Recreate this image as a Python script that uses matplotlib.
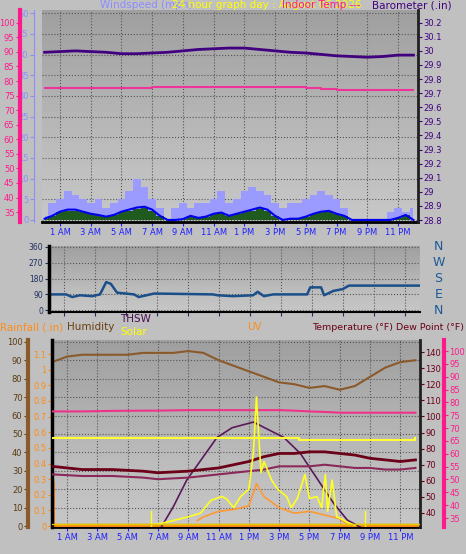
import matplotlib.pyplot as plt
import numpy as np

W, H = 466, 554

# ---- data ----
hh = np.arange(0, 24.5, 0.5)
gust = [1, 4, 5, 7, 6, 5, 4, 5, 3, 4, 5, 7, 10, 8, 5, 3, 0, 3, 4, 3, 4, 4, 5, 7, 4, 5,
        7, 8, 7, 6, 4, 3, 4, 4, 5, 6, 7, 6, 5, 3, 0, 0, 0, 0, 0, 2, 3, 2, 3]
wind_avg = [0.3, 1, 2, 2.5, 2.5, 2, 1.5, 1.2, 0.8, 1.2, 2, 2.5, 3, 3.2, 2.5, 1, 0, 0, 0.2, 1,
            0.5, 0.8, 1.5, 1.8, 1, 1.5, 2, 2.5, 3, 2.5, 1, 0, 0.3, 0.3, 0.8, 1.5, 2, 2.2, 1.5, 1,
            0, 0, 0, 0, 0, 0, 0.5, 1.2, 0]

baro_h = [0, 1, 2, 3, 4, 5, 6, 7, 8, 9, 10, 11, 12, 13, 14, 15, 16, 17, 18, 19, 20, 21, 22, 23, 24]
baro = [29.99, 29.995, 30.0, 29.995, 29.99, 29.98, 29.98, 29.985, 29.99, 30.0, 30.01, 30.015,
        30.02, 30.02, 30.01, 30.0, 29.99, 29.985, 29.975, 29.965, 29.96, 29.955, 29.96, 29.97, 29.97]
inhum_h = [0, 6, 7, 11, 12, 16, 17, 18, 19, 24]
inhum = [77.5, 77.5, 78, 78, 78, 78, 77.5, 77.3, 77, 77]

dir_h = [0, 1.1, 1.5, 2.0, 2.8, 3.3, 3.7, 4.0, 4.4, 5.5, 5.8, 6.3, 6.8, 10.6, 10.9, 11.9, 13.2,
         13.5, 13.9, 14.5, 16.7, 16.9, 17.6, 17.8, 18.4, 19.0, 19.4, 24]
wdir = [90, 90, 75, 85, 80, 90, 160, 150, 100, 90, 75, 85, 95, 90, 85, 80, 85,
        105, 80, 90, 90, 130, 130, 85, 110, 120, 140, 140]

hum_h = [0, 1, 2, 5, 6, 8, 9, 10, 11, 12, 13, 14, 15, 16, 17, 18, 19, 20, 21, 22, 23, 24]
hum = [89, 92, 93, 93, 94, 94, 95, 94, 90, 87, 84, 81, 78, 77, 75, 76, 74, 76, 81, 86, 89, 90]

t_h = [0, 2, 4, 6, 7, 9, 11, 13, 14, 15, 16, 17, 18, 19, 20, 21, 22, 23, 24]
temp = [69, 67, 67, 66, 65, 66, 68, 72, 75, 77, 77, 78, 78, 77, 76, 74, 73, 72, 73]
dew = [64, 63, 63, 62, 61, 62, 64, 66, 67, 69, 69, 69, 70, 69, 68, 68, 67, 67, 68]
pinkb = [76.5, 76.5, 76.7, 76.8, 76.8, 77, 77, 77, 77, 77, 76.8, 76.5, 76.3, 76, 76, 76, 76, 76, 76]
yel_h = [0, 16, 16.3, 23.8, 24]
yel = [66, 66, 65.5, 65.5, 66]

thsw_h = [7.2, 8.0, 8.9, 10.9, 11.9, 13.3, 15.3, 16.4, 17.7, 18.6, 19.5, 20.4]
thsw = [31, 43.7, 60.5, 87, 93, 96.5, 87, 77, 58.6, 46, 35.6, 31]

sol_h = [6.5, 7, 9, 9.8, 10.5, 11.2, 11.5, 12, 12.45, 13, 13.3, 13.5, 13.8, 14.0, 14.5, 14.9, 15.5,
         15.8, 16.2, 16.7, 17.0, 17.5, 17.8, 18.05, 18.2, 18.5, 18.8, 19.1, 19.5, 20.0]
solar = [1, 1, 5, 7, 14, 16, 15, 10, 16, 20, 40, 70, 29, 35, 25, 20, 16, 10, 15, 28, 15, 16, 10,
         28, 8, 25, 5, 4, 2, 0.5]
uv_h = [9.6, 10, 11, 12, 13, 13.5, 14, 15, 16, 17, 18, 19, 19.5, 20]
uv = [3, 5, 8, 9, 11, 23, 16, 10, 7, 8, 6, 4, 1, 0]

hour_ticks = list(range(1, 24, 2))
hour_labels = ['1 AM', '3 AM', '5 AM', '7 AM', '9 AM', '11 AM',
               '1 PM', '3 PM', '5 PM', '7 PM', '9 PM', '11 PM']

PINK = '#ff1a8c'
LAV = '#8c8cff'
BARO = '#400080'
BROWN = '#8b5a2b'
ORANGE = '#ff8c1a'
TEMP = '#6b0018'
DEWC = '#8b2a5a'
PT = 0.72  # points per pixel


def rect(l, t, r, b):
    return [l / W, 1 - b / H, (r - l) / W, (b - t) / H]


def bg(ax):
    g = np.linspace(0, 1, 100).reshape(-1, 1)
    ax.imshow(g, cmap='Greys_r', vmin=-3.79, vmax=3.35, aspect='auto', extent=(0, 1, 0, 1),
              transform=ax.transAxes, zorder=0)
    ax.grid(True, color='#555555', ls=':', lw=0.8)
    ax.set_axisbelow(True)


def style(ax, color, fs=6):
    ax.tick_params(colors=color, labelsize=fs, length=3, width=0.8, pad=1)


plt.rcParams['font.family'] = 'DejaVu Sans'
fig = plt.figure(figsize=(W / 100, H / 100), dpi=100, facecolor='#c0c0c0')

# ---- top panel ----
ax = fig.add_axes(rect(42, 10, 418, 222))
bg(ax)
ax.set_xlim(-0.17, 24.3)
ax.set_ylim(-0.5, 50.8)
ax.set_yticks(range(0, 51, 5))
ax.set_xticks(hour_ticks)
ax.set_xticklabels(hour_labels)
style(ax, LAV)
ax.tick_params(axis='x', colors='#2020ff')
for s in ['top', 'right']:
    ax.spines[s].set_visible(False)
ax.spines['left'].set_position(('outward', 8 * PT))
ax.spines['left'].set_color(LAV)
ax.spines['bottom'].set_linewidth(2)
ax.fill_between(hh, gust, step='mid', color='#9a9aff', lw=0, zorder=2)
ax.fill_between(hh, np.array(wind_avg) * 0.9, step='mid', color='#1f5a1f', lw=0, zorder=3)
ax.plot(hh, wind_avg, color='#0000ee', lw=1.5, zorder=4)

axp = ax.twinx()
axp.set_ylim(31.6, 104.4)
axp.set_yticks(range(35, 101, 5))
axp.yaxis.tick_left()
axp.spines['left'].set_visible(True)
axp.spines['left'].set_position(('outward', 22 * PT))
axp.spines['left'].set_color(PINK)
axp.spines['left'].set_linewidth(3)
axp.spines['right'].set_visible(False)
axp.spines['top'].set_visible(False)
style(axp, PINK)
axp.plot(inhum_h, inhum, color='#ee3399', lw=1.5, drawstyle='steps-post')

axb = ax.twinx()
axb.set_ylim(28.786, 30.29)
bt = np.round(np.arange(28.8, 30.25, 0.1), 1)
axb.set_yticks(bt)
axb.set_yticklabels([f'{v:g}' for v in bt])
axb.spines['right'].set_color('#202020')
axb.spines['right'].set_linewidth(2)
for s in ['top', 'left', 'bottom']:
    axb.spines[s].set_visible(False)
style(axb, BARO)
axb.plot(baro_h, baro, color=BARO, lw=2)

fig.text(100 / W, 1 - 8 / H, 'Windspeed (mph)', color=LAV, fontsize=7.5)
fig.text(172 / W, 1 - 8 / H, '24 hour graph day : August 06 2026', color='yellow', fontsize=7.5)
fig.text(282 / W, 1 - 8 / H, 'Indoor Temp ---', color=PINK, fontsize=7.5)
fig.text(372 / W, 1 - 8 / H, 'Barometer (.in)', color=BARO, fontsize=7.5)

# ---- middle panel ----
am = fig.add_axes(rect(49, 246, 420, 312))
bg(am)
am.set_xlim(0, 24)
am.set_ylim(-10, 365)
am.set_yticks([0, 90, 180, 270, 360])
am.set_xticks(hour_ticks)
am.set_xticklabels([])
am.tick_params(axis='x', length=0)
style(am, '#203060', fs=5.5)
for s in ['top', 'right']:
    am.spines[s].set_visible(False)
am.spines['left'].set_linewidth(2.5)
am.spines['bottom'].set_linewidth(1.5)
am.plot(dir_h, wdir, color='#1a4f8a', lw=1.8)
for lab, v in zip(['N', 'W', 'S', 'E', 'N'], [360, 270, 180, 90, 0]):
    am.text(1.05, (v + 10) / 375, lab, transform=am.transAxes, color='#1a5a9a',
            fontsize=9, ha='center', va='center')

# ---- bottom panel ----
ah = fig.add_axes(rect(52, 340, 420, 527))
bg(ah)
ah.set_xlim(0, 24.3)
ah.set_ylim(-0.5, 101)
ah.set_yticks(range(0, 101, 10))
ah.set_xticks(hour_ticks)
ah.set_xticklabels(hour_labels)
style(ah, '#5a3a10')
ah.tick_params(axis='x', colors='#2020ff')
for s in ['top', 'right']:
    ah.spines[s].set_visible(False)
ah.spines['left'].set_position(('outward', 24 * PT))
ah.spines['left'].set_color(BROWN)
ah.spines['left'].set_linewidth(3)
ah.spines['bottom'].set_linewidth(2)
ah.plot(hum_h, hum, color='#8b5a2b', lw=1.5)

ar = ah.twinx()
ar.set_ylim(-0.006, 1.19)
rt = np.round(np.arange(0, 1.15, 0.1), 1)
ar.set_yticks(rt)
ar.set_yticklabels([f'{v:g}' for v in rt])
ar.yaxis.tick_left()
ar.spines['left'].set_visible(True)
ar.spines['left'].set_color('black')
ar.spines['left'].set_linewidth(2.5)
for s in ['top', 'right']:
    ar.spines[s].set_visible(False)
style(ar, ORANGE)
ar.axhline(0.005, color=ORANGE, lw=2.5)
ar.bar([0.1], [0.28], width=0.15, color=ORANGE)

at = ah.twinx()
at.set_ylim(31.3, 147.5)
at.set_yticks(range(40, 141, 10))
at.spines['right'].set_color('#202020')
at.spines['right'].set_linewidth(2)
for s in ['top', 'left', 'bottom']:
    at.spines[s].set_visible(False)
style(at, TEMP)
at.plot(thsw_h, thsw, color='#5a1a5a', lw=1.2)
at.plot(t_h, dew, color=DEWC, lw=1.5)
at.plot(t_h, temp, color=TEMP, lw=2)

ad = ah.twinx()
ad.set_ylim(31.5, 104.3)
ad.set_yticks(range(35, 101, 5))
ad.spines['right'].set_position(('outward', 24 * PT))
ad.spines['right'].set_color(PINK)
ad.spines['right'].set_linewidth(3)
for s in ['top', 'left', 'bottom']:
    ad.spines[s].set_visible(False)
style(ad, PINK)
ad.plot(t_h, pinkb, color='#ee3388', lw=1.5)
ad.plot(yel_h, yel, color='#ffff33', lw=1.5, drawstyle='steps-post')

asol = ah.twinx()
asol.set_ylim(-0.5, 101)
asol.axis('off')
asol.plot(uv_h, uv, color='#ff9933', lw=1.2)
asol.plot(sol_h, solar, color='#ffff22', lw=1.2)
asol.plot([6.57, 6.57], [0, 8], color='#ffff22', lw=1)
asol.plot([20.7, 20.7], [0, 8], color='#ffff22', lw=1)
asol.axhline(1, color='#ddcc00', lw=1)

fig.text(0 / W, 1 - 330 / H, 'Rainfall (.in)', color=ORANGE, fontsize=7.5)
fig.text(67 / W, 1 - 330 / H, 'Humidity', color='#6b4010', fontsize=7.5)
fig.text(120 / W, 1 - 322 / H, 'THSW', color='#4a1050', fontsize=7.5)
fig.text(120 / W, 1 - 335 / H, 'Solar', color='yellow', fontsize=7.5)
fig.text(247 / W, 1 - 330 / H, 'UV', color=ORANGE, fontsize=7.5)
fig.text(312 / W, 1 - 330 / H, 'Temperature (°F) Dew Point (°F)', color=TEMP, fontsize=6.8)

fig.savefig('out.png', dpi=100, facecolor=fig.get_facecolor())
